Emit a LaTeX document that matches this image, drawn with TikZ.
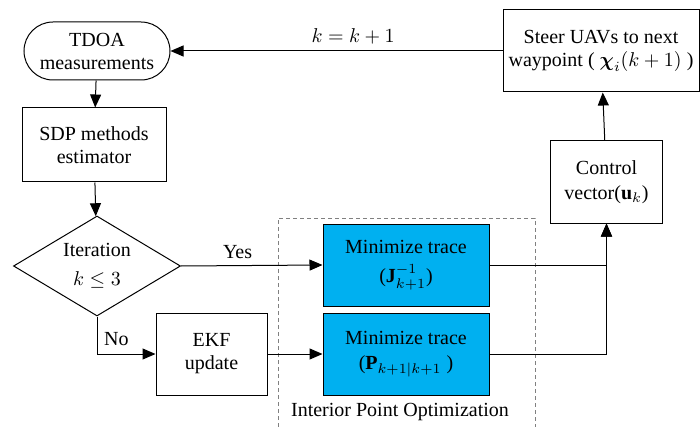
\documentclass[tikz,border=0pt]{standalone}
\usepackage{amsmath}
\usepackage{fontspec}
\setmainfont{Liberation Serif}
\usetikzlibrary{shapes.geometric,arrows.meta}
\definecolor{optBlue}{RGB}{0,176,240}

\begin{document}
\begin{tikzpicture}[x=0.5pt, y=-0.5pt, font=\fontsize{10}{11.5}\selectfont,
  box/.style={draw, line width=0.5pt, align=center, inner sep=0pt},
  bluebox/.style={box, fill=optBlue, minimum width=83pt, minimum height=41pt},
  flow/.style={line width=0.5pt, -{Triangle[length=6.5pt,width=5.5pt]}}]
\useasboundingbox (0,0) rectangle (700,427);

\node[box, rounded corners=14.5pt, minimum width=73pt, minimum height=29pt] (tdoa) at (97,51) {TDOA\\measurements};
\node[box, minimum width=72pt, minimum height=37pt] (sdp) at (94,145) {SDP methods\\estimator};
\node[box, diamond, aspect=1.67, minimum width=83.5pt, minimum height=50pt] (iter) at (97,266) {Iteration\\[3pt]$k \le 3$};
\node[box, minimum width=55.5pt, minimum height=41pt] (ekf) at (211.5,354) {EKF\\update};
\node[bluebox] (minj) at (406,265) {Minimize trace\\[3pt]($\mathbf{J}^{-1}_{k+1}$)};
\node[bluebox] (minp) at (406,354) {Minimize trace\\[1pt]($\mathbf{P}_{k+1|k+1}$ )};
\node[box, minimum width=56pt, minimum height=41pt] (ctrl) at (606.5,182) {Control\\[1pt]vector($\mathbf{u}_k$)};
\node[box, minimum width=98pt, minimum height=41pt] (steer) at (601,51) {Steer UAVs to next\\waypoint ( $\boldsymbol{\chi}_i(k+1)$ )};

\draw[gray, line width=0.5pt, dash pattern=on 2pt off 1.5pt] (278,427) |- (535,218) -- (535,427);
\node (iplabel) at (400,412) {Interior Point Optimization};

\draw[flow] (tdoa) -- (sdp);
\draw[flow] (sdp) -- (iter);
\draw[flow] (iter.east) -- node[above, pos=0.4] {Yes} (minj.west);
\draw[flow] (iter.south) |- node[right, pos=0.3] {No} (ekf.west);
\draw[flow] (ekf) -- (minp);
\draw[flow] (minj.east) -| (ctrl.south);
\draw[flow] (minp.east) -| (ctrl.south);
\draw[flow] (ctrl) -- (steer);
\draw[flow] (steer.west) -- node[above, pos=0.45] {$k=k+1$} (tdoa.east);
\end{tikzpicture}
\end{document}
